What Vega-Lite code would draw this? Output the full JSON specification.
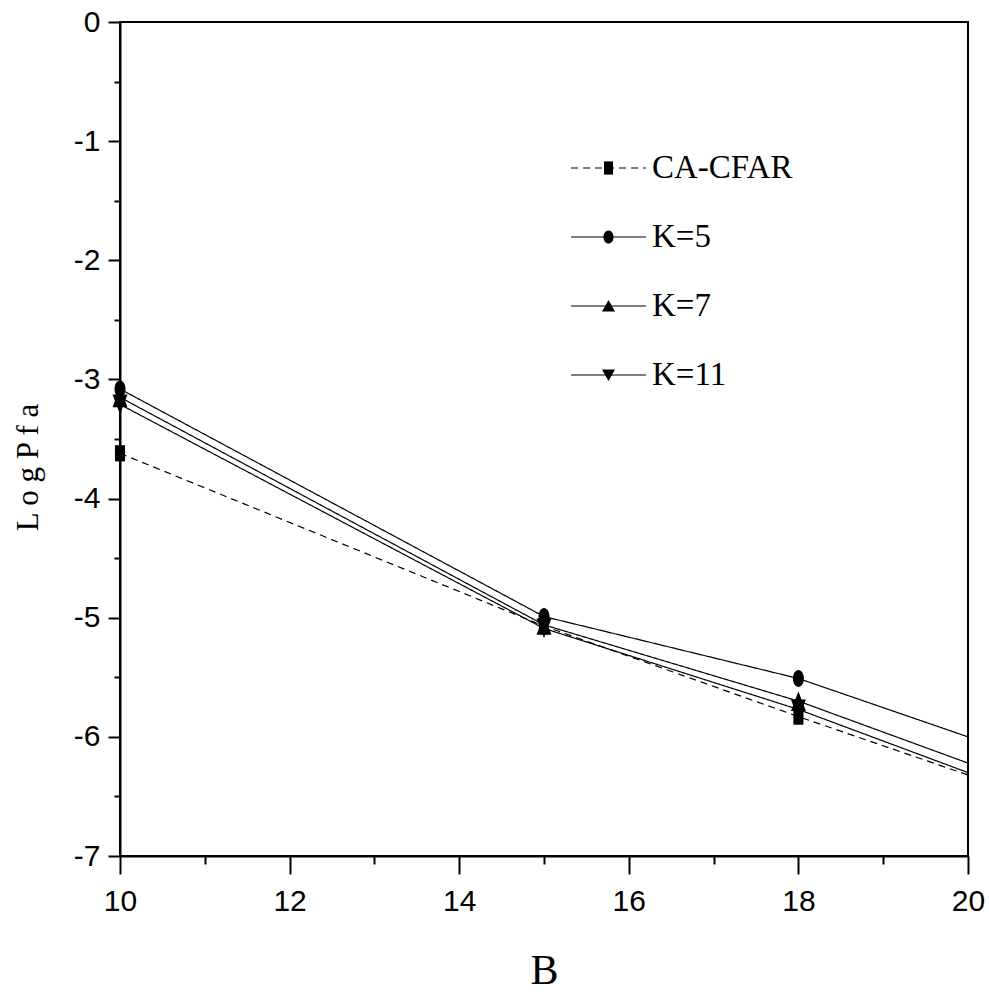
{
  "$schema": "https://vega.github.io/schema/vega-lite/v6.json",
  "autosize": "none",
  "width": 848,
  "height": 834,
  "padding": {"left": 120, "top": 22, "right": 21, "bottom": 140},
  "background": "white",
  "config": {
    "view": {"stroke": "black", "strokeWidth": 2},
    "axis": {
      "grid": false,
      "domainColor": "black",
      "domainWidth": 2,
      "tickColor": "black",
      "tickWidth": 2,
      "labelColor": "black",
      "labelFont": "Liberation Sans, sans-serif",
      "labelFontSize": 30,
      "titleColor": "black",
      "titleFont": "Liberation Serif, serif",
      "titleFontWeight": "normal"
    }
  },
  "data": {
    "values": [
      {"series": "CA-CFAR", "B": 10, "logpfa": -3.62},
      {"series": "CA-CFAR", "B": 15, "logpfa": -5.07},
      {"series": "CA-CFAR", "B": 18, "logpfa": -5.83},
      {"series": "CA-CFAR", "B": 20, "logpfa": -6.32},
      {"series": "K=5", "B": 10, "logpfa": -3.08},
      {"series": "K=5", "B": 15, "logpfa": -4.99},
      {"series": "K=5", "B": 18, "logpfa": -5.51},
      {"series": "K=5", "B": 20, "logpfa": -6.0},
      {"series": "K=7", "B": 10, "logpfa": -3.15},
      {"series": "K=7", "B": 15, "logpfa": -5.06},
      {"series": "K=7", "B": 18, "logpfa": -5.7},
      {"series": "K=7", "B": 20, "logpfa": -6.22},
      {"series": "K=11", "B": 10, "logpfa": -3.21},
      {"series": "K=11", "B": 15, "logpfa": -5.09},
      {"series": "K=11", "B": 18, "logpfa": -5.77},
      {"series": "K=11", "B": 20, "logpfa": -6.3}
    ]
  },
  "encoding": {
    "x": {
      "field": "B", "type": "quantitative",
      "scale": {"domain": [10, 20], "nice": false, "zero": false},
      "axis": {
        "title": "B",
        "titleFontSize": 42,
        "titlePadding": 34,
        "values": [10, 11, 12, 13, 14, 15, 16, 17, 18, 19, 20],
        "labelExpr": "datum.value % 2 === 0 ? datum.label : ''",
        "tickSize": {"condition": {"test": "datum.value % 2 === 0", "value": 18}, "value": 8},
        "labelPadding": 12,
        "labelFlush": false,
        "labelOverlap": false
      }
    },
    "y": {
      "field": "logpfa", "type": "quantitative",
      "scale": {"domain": [-7, 0], "nice": false, "zero": false},
      "axis": {
        "title": "L o g P f a",
        "titleFontSize": 31,
        "titleX": -92,
        "titleY": 445,
        "titleAngle": 270,
        "titleAlign": "center",
        "titleBaseline": "middle",
        "values": [-7, -6.5, -6, -5.5, -5, -4.5, -4, -3.5, -3, -2.5, -2, -1.5, -1, -0.5, 0],
        "labelExpr": "datum.value % 1 === 0 ? (datum.value < 0 ? '-' + format(-datum.value, 'd') : format(datum.value, 'd')) : ''",
        "tickSize": {"condition": {"test": "datum.value % 1 === 0", "value": 12}, "value": 6},
        "labelPadding": 8,
        "labelFlush": false,
        "labelOverlap": false
      }
    }
  },
  "layer": [
    {
      "mark": {"type": "line", "color": "black", "strokeWidth": 1.2},
      "encoding": {
        "detail": {"field": "series"},
        "strokeDash": {
          "field": "series", "type": "nominal",
          "sort": ["CA-CFAR", "K=5", "K=7", "K=11"],
          "scale": {"range": [[7, 5], [1, 0], [1, 0], [1, 0]]},
          "legend": {
            "orient": "none",
            "legendX": 450,
            "legendY": 107.5,
            "title": null,
            "padding": 0,
            "rowPadding": 13,
            "labelOffset": 5,
            "values": ["CA-CFAR", "K=5", "K=7", "K=11"],
            "symbolType": "stroke",
            "symbolSize": 5625,
            "symbolStrokeColor": "black",
            "symbolStrokeWidth": 1.2,
            "labelFont": "Liberation Serif, serif",
            "labelFontSize": 33,
            "labelColor": "black",
            "labelOpacity": 0,
            "labelBaseline": "middle"
          }
        }
      }
    },
    {
      "transform": [{"filter": "datum.B < 20"}],
      "mark": {"type": "point", "filled": true, "color": "black", "opacity": 1, "size": 324},
      "encoding": {
        "shape": {
          "field": "series", "type": "nominal",
          "scale": {
            "domain": ["CA-CFAR", "K=5", "K=7", "K=11"],
            "range": [
              "M-0.56,-0.9L0.56,-0.9L0.56,0.9L-0.56,0.9Z",
              "M-0.61,0A0.61,0.94 0 1,0 0.61,0A0.61,0.94 0 1,0 -0.61,0Z",
              "M0,-1.1L0.83,1.1L-0.83,1.1Z",
              "M0,1.1L0.83,-1.1L-0.83,-1.1Z"
            ]
          },
          "legend": null
        }
      }
    },
    {
      "transform": [{"filter": "datum.B > 100"}],
      "mark": {"type": "point", "filled": true, "color": "black", "size": 5625, "opacity": 1},
      "encoding": {
        "shape": {
          "field": "series", "type": "nominal",
          "scale": {
            "domain": ["CA-CFAR", "K=5", "K=7", "K=11"],
            "range": [
              "M-0.12,-0.175L0.12,-0.175L0.12,0.175L-0.12,0.175Z",
              "M-0.135,0A0.135,0.175 0 1,0 0.135,0A0.135,0.175 0 1,0 -0.135,0Z",
              "M0,-0.16L0.175,0.145L-0.175,0.145Z",
              "M0,0.16L0.175,-0.145L-0.175,-0.145Z"
            ]
          },
          "legend": {
            "orient": "none",
            "legendX": 450,
            "legendY": 107.5,
            "title": null,
            "padding": 0,
            "rowPadding": 13,
            "labelOffset": 5,
            "symbolSize": 5625,
            "labelFont": "Liberation Serif, serif",
            "labelFontSize": 33,
            "labelColor": "black",
            "labelBaseline": "middle",
            "symbolFillColor": "black",
            "symbolOpacity": 1
          }
        }
      }
    }
  ],
  "resolve": {"scale": {"shape": "independent"}, "legend": {"shape": "independent"}}
}
